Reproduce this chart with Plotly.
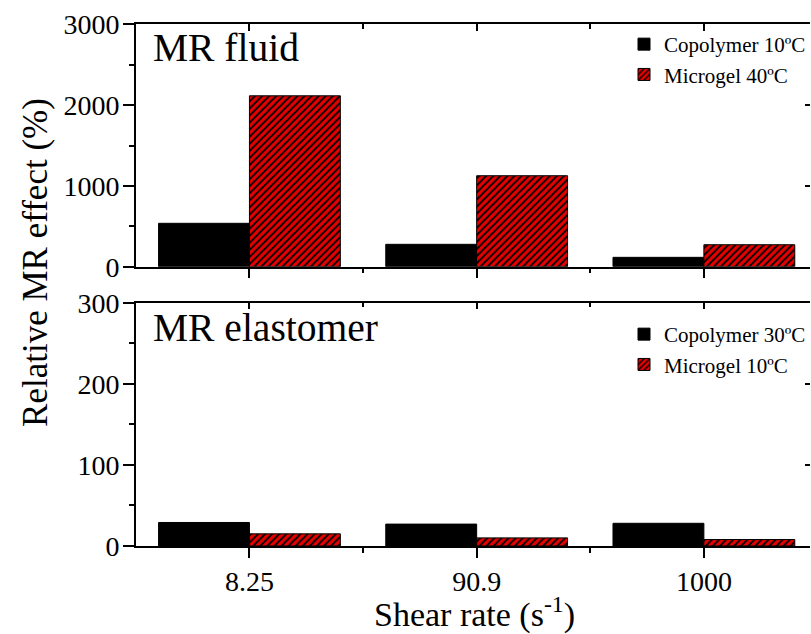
import plotly.graph_objects as go

# ---- data ----
shear_rates = ["8.25", "90.9", "1000"]
fluid_copolymer = [537, 277, 116]      # Copolymer 10ºC (MR fluid)
fluid_microgel = [2115, 1126, 272]     # Microgel 40ºC (MR fluid)
elast_copolymer = [29, 27, 28]         # Copolymer 30ºC (MR elastomer)
elast_microgel = [15, 10, 8]           # Microgel 10ºC (MR elastomer)

W, H = 811, 634
FONT = "'Liberation Serif', 'Times New Roman', Times, 'DejaVu Serif', serif"
RED = "rgb(230,0,0)"

def px(xp):
    return xp / W

def py(yp):
    return 1 - yp / H

xpos = list(range(len(shear_rates)))
x_dom = [px(136), 1.0]
x_rng = [-0.5, -0.5 + (W - 136) / 227.5]
top_dom = [py(266.7), py(24.3)]
bot_dom = [py(546), py(302.7)]

pattern = dict(shape="/", bgcolor=RED, fgcolor="black", size=5, solidity=0.35, fillmode="replace")

fig = go.Figure()
# top panel (MR fluid)
fig.add_bar(x=xpos, y=fluid_copolymer, name="Copolymer 10ºC", xaxis="x2", yaxis="y2",
            marker=dict(color="black", line=dict(color="black", width=1)), legend="legend2")
fig.add_bar(x=xpos, y=fluid_microgel, name="Microgel 40ºC", xaxis="x2", yaxis="y2",
            marker=dict(color=RED, pattern=pattern, line=dict(color="black", width=1)), legend="legend2")
# bottom panel (MR elastomer)
fig.add_bar(x=xpos, y=elast_copolymer, name="Copolymer 30ºC", xaxis="x", yaxis="y",
            marker=dict(color="black", line=dict(color="black", width=1)), legend="legend")
fig.add_bar(x=xpos, y=elast_microgel, name="Microgel 10ºC", xaxis="x", yaxis="y",
            marker=dict(color=RED, pattern=pattern, line=dict(color="black", width=1)), legend="legend")
# empty helper traces so the mirrored (top / right) tick axes are active
fig.add_scatter(x=[], y=[], xaxis="x3", yaxis="y3", showlegend=False, hoverinfo="skip")
fig.add_scatter(x=[], y=[], xaxis="x4", yaxis="y4", showlegend=False, hoverinfo="skip")

tickfont = dict(family=FONT, size=28, color="black")
line = dict(showline=True, linecolor="black", linewidth=1.5, showgrid=False, zeroline=False)

xbase = dict(domain=x_dom, range=x_rng, tickmode="array", tickvals=xpos, ticktext=shear_rates,
             ticks="outside", ticklen=10, tickwidth=1.5, tickcolor="black",
             minor=dict(ticks="outside", ticklen=5, tickwidth=1.5, tickcolor="black", tickmode="array",
                        tickvals=[i + 0.5 for i in xpos]),
             tickfont=tickfont, automargin=False, **line)
xtop = dict(domain=x_dom, range=x_rng, tickmode="array", tickvals=xpos, side="top",
            ticks="inside", ticklen=7, tickwidth=1.5, tickcolor="black", showticklabels=False,
            minor=dict(ticks="inside", ticklen=5, tickwidth=1.5, tickcolor="black", tickmode="array",
                       tickvals=[i + 0.5 for i in xpos]),
            automargin=False, **line)

ybase = dict(ticks="outside", ticklen=11, tickwidth=1.5, tickcolor="black", tickfont=tickfont,
             ticklabelstandoff=-2, automargin=False, **line)
yright = dict(side="right", ticks="inside", ticklen=5, tickwidth=1.5, tickcolor="black",
              showticklabels=False, showline=False, showgrid=False, zeroline=False, automargin=False)

fig.update_layout(
    width=W, height=H, margin=dict(l=0, r=0, t=0, b=0),
    paper_bgcolor="white", plot_bgcolor="white",
    barmode="group", bargap=0.2, bargroupgap=0,
    font=dict(family=FONT, color="black"),
    xaxis=dict(anchor="y", **xbase),
    xaxis2=dict(anchor="y2", **{**xbase, "showticklabels": False}),
    xaxis3=dict(anchor="y", overlaying="x", **xtop),
    xaxis4=dict(anchor="y2", overlaying="x2", **xtop),
    yaxis=dict(anchor="x", domain=bot_dom, range=[0, 300], tickmode="linear", tick0=0, dtick=100,
               minor=dict(ticks="outside", ticklen=5, tickwidth=1.5, tickcolor="black", dtick=50),
               **ybase),
    yaxis2=dict(anchor="x2", domain=top_dom, range=[0, 3000], tickmode="linear", tick0=0, dtick=1000,
                minor=dict(ticks="outside", ticklen=5, tickwidth=1.5, tickcolor="black", dtick=500),
                **ybase),
    yaxis3=dict(anchor="x", overlaying="y", domain=bot_dom, range=[0, 300], tickmode="linear",
                tick0=0, dtick=100, **yright),
    yaxis4=dict(anchor="x2", overlaying="y2", domain=top_dom, range=[0, 3000], tickmode="linear",
                tick0=0, dtick=1000, **yright),
    legend=dict(x=px(625), y=py(314), xanchor="left", yanchor="top", bgcolor="rgba(0,0,0,0)",
                font=dict(family=FONT, size=21, color="black"), tracegroupgap=0, itemwidth=30),
    legend2=dict(x=px(625), y=py(24), xanchor="left", yanchor="top", bgcolor="rgba(0,0,0,0)",
                 font=dict(family=FONT, size=21, color="black"), tracegroupgap=0, itemwidth=30),
    annotations=[
        dict(text="MR fluid", x=px(151), y=py(48), xref="paper", yref="paper", xanchor="left",
             yanchor="middle", showarrow=False, font=dict(family=FONT, size=39.5, color="black")),
        dict(text="MR elastomer", x=px(151), y=py(328), xref="paper", yref="paper", xanchor="left",
             yanchor="middle", showarrow=False, font=dict(family=FONT, size=39.5, color="black")),
        dict(text="Relative MR effect (%)", x=px(35), y=py(262), xref="paper", yref="paper",
             xanchor="center", yanchor="middle", textangle=-90, showarrow=False,
             font=dict(family=FONT, size=35, color="black")),
        dict(text="Shear rate (s<sup>-1</sup>)", x=px(475), y=py(612), xref="paper", yref="paper",
             xanchor="center", yanchor="middle", showarrow=False,
             font=dict(family=FONT, size=34, color="black")),
    ],
)

fig.write_html("out.html")
